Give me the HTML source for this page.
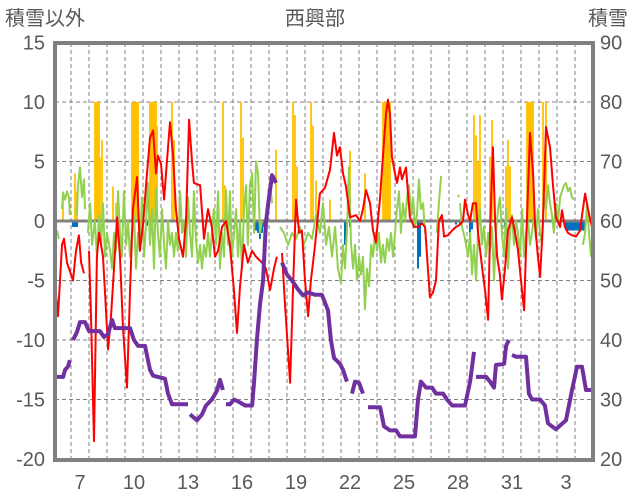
<!DOCTYPE html>
<html><head><meta charset="utf-8"><style>
html,body{margin:0;padding:0;background:#fff;}
svg{display:block;font-family:"Liberation Sans","Noto Sans CJK JP",sans-serif;}
</style></head><body>
<svg id="chart" width="636" height="501" viewBox="0 0 636 501" xmlns="http://www.w3.org/2000/svg">
<g id="grid"></g>
<g id="bars"></g>
<g id="lines"></g>
<g id="axes"></g>
<text x="5" y="25" font-size="20" fill="#595959">積雪以外</text>
<text x="315" y="25" font-size="20" fill="#595959" text-anchor="middle">西興部</text>
<text x="588" y="25" font-size="20" fill="#595959">積雪</text>
</svg>
<script>
const leftTicks=[15,10,5,0,-5,-10,-15,-20];
const rightTicks=[90,80,70,60,50,40,30,20];
const dayTicks=[7,10,13,16,19,22,25,28,31,34];
const redDays=[5.67,5.78,6.0,6.11,6.28,6.5,6.61,6.78,6.94,7.06,7.22,7.3,7.5,7.61,7.78,7.94,8.06,8.28,8.39,8.56,8.72,8.89,9.06,9.22,9.39,9.61,9.78,9.94,10.17,10.33,10.5,10.72,10.89,11.06,11.22,11.33,11.5,11.67,11.83,12.0,12.17,12.33,12.5,12.72,12.89,13.06,13.22,13.33,13.67,13.89,14.11,14.33,14.5,14.67,14.89,15.11,15.33,15.56,15.72,15.89,16.11,16.33,16.56,16.78,17.11,17.33,17.56,17.78,17.94,18.0,18.22,18.39,18.56,18.67,18.83,19.0,19.17,19.33,19.5,19.67,19.83,20.06,20.33,20.61,20.89,21.11,21.28,21.44,21.61,21.78,22.0,22.33,22.56,22.72,22.89,23.11,23.28,23.44,23.67,23.83,24.0,24.11,24.22,24.33,24.5,24.61,24.78,24.89,25.11,25.33,25.56,25.78,26.0,26.17,26.33,26.44,26.61,26.78,26.94,27.11,27.22,27.44,27.67,27.89,28.11,28.28,28.39,28.56,28.67,28.83,29.0,29.11,29.22,29.39,29.5,29.67,29.78,29.94,30.06,30.17,30.33,30.44,30.61,30.78,31.0,31.17,31.33,31.5,31.67,31.83,32.0,32.17,32.28,32.44,32.56,32.72,32.89,33.11,33.28,33.44,33.67,33.78,33.94,34.11,34.33,34.56,34.78,34.94,35.06,35.22,35.44];
const redVals=[-6.3,-8,-2,-1.5,-3.5,-4.5,-5,-2.5,-1.2,-3.5,-4.4,null,-2.5,-8,-18.5,-3,-1,-3,-6,-10.8,-8,-4,0.3,-3,-9,-14,-6,1,3.7,-2.5,-0.3,4,7,7.6,4,5.5,4.8,1.8,5,8.3,5.5,1,-1.5,-3,0,8.5,5,3.2,3,-1.5,1,-0.5,-3,-2.5,-0.5,0,-2,-6,-9.4,-5.5,-2,-3.5,-2.5,-3,-3.5,-4,-5.8,-4,-3,null,-2.7,-7,-11,-13.6,-6,1.8,-1,-0.8,-5,-8,-5,-2,2.3,2.8,4.3,7.4,5.5,6.2,4,2.9,0.3,0.5,0,1,2.6,1.5,-0.8,-1.8,2,5.4,9,10.2,9,5.4,4,3.2,4.5,3.5,4.5,0.3,-0.5,-0.5,-0.2,-0.5,-4,-6.4,-6,-5,0,0.5,-1.3,-1.2,-0.8,-0.5,-0.3,0,1.8,0.5,0,1.5,1.5,-1,-2.4,-4.5,-5.8,-8.3,-1,6.2,0,-3,-4.5,-6.6,-4,-0.8,0.3,-1,-2.4,-5,-7.5,0,7.4,4,-0.2,-3,-4.7,0,7.9,6.2,3,0.3,-0.5,0.9,-0.5,-1,-1.2,-1.3,-0.8,1,2.3,1,-0.5];
const greenDays=[5.72,5.83,5.9,6.0,6.06,6.17,6.28,6.39,6.44,6.5,6.83,6.89,7.0,7.11,7.22,7.28,7.35,7.44,7.56,7.67,7.83,7.94,8.06,8.17,8.28,8.39,8.5,8.67,8.78,8.89,9.0,9.11,9.22,9.33,9.44,9.56,9.67,9.78,9.89,10.0,10.11,10.22,10.33,10.44,10.56,10.67,10.78,10.89,11.0,11.11,11.22,11.33,11.44,11.56,11.67,11.78,11.89,12.0,12.11,12.22,12.33,12.44,12.56,12.67,12.78,12.89,13.0,13.11,13.22,13.33,13.44,13.56,13.67,13.78,13.89,14.0,14.11,14.22,14.33,14.44,14.56,14.67,14.78,14.89,15.0,15.11,15.22,15.33,15.44,15.56,15.67,15.78,15.89,16.0,16.11,16.22,16.33,16.44,16.56,16.67,16.78,16.89,17.0,17.11,17.2,17.44,17.56,17.67,17.75,18.11,18.33,18.56,18.78,19.0,19.22,19.44,19.67,19.89,20.11,20.33,20.5,20.67,20.83,21.0,21.17,21.33,21.5,21.61,21.72,21.83,21.94,22.06,22.17,22.28,22.39,22.5,22.61,22.72,22.83,22.94,23.06,23.17,23.28,23.39,23.5,23.61,23.72,23.83,23.94,24.06,24.17,24.28,24.39,24.5,24.61,24.72,24.83,24.94,25.06,25.17,25.28,25.39,25.5,25.61,25.72,25.83,25.94,26.06,26.17,26.3,26.83,26.94,27.06,27.15,28.0,28.06,28.1,28.11,28.22,28.39,28.56,28.67,28.78,28.89,29.0,29.11,29.22,29.33,29.44,29.56,29.67,29.78,29.89,30.0,30.11,30.22,30.33,30.44,30.56,30.67,30.78,30.89,31.0,31.11,31.22,31.33,31.44,31.56,31.67,31.78,31.89,32.0,32.11,32.22,32.33,32.44,32.56,32.67,32.78,32.89,33.0,33.11,33.22,33.33,33.44,33.56,33.67,33.78,33.89,34.0,34.11,34.22,34.33,34.44,34.5,34.94,35.06,35.17,35.28,35.39];
const greenVals=[-0.8,-1.5,null,1,2.4,1.8,2.5,2,0.5,null,0.5,3,4.5,2,3.5,1,null,-1,1.5,-2,0,-3,0.5,-2,1.5,-3,-1,-2.5,-4,-1,-2.5,2.5,-1,-3,2.5,-2,0,-3,-1,0.5,-4,-1,-2.5,2,-3,0,3.2,-2,1,-4,2.8,-1,-3,1,-2,-4,0,-2,-1,-3,-1,-2.5,2.5,-1,0,-3,2,-1,-3,2.5,-1.5,-3.5,-2,-4,-2,-3,-1,-3,-1,1,-2,2.5,-4,-1,-3,2.6,-2,2.5,-3,-1,1,-3,0,-4,1,3,-2,3,4,-1,5,4,-1,0,null,2.5,3,1.5,null,-0.5,-1,-2,-1,-1.5,-0.5,-2,-1,-1.5,0.5,-1,1.5,-2,-0.5,-3,-0.5,-4,-5.2,-2,-4,-1,4.5,-2,-4,-2,-5,-3,-4.5,-3,-7.4,-4,-5.5,-2,-3,-1,-2.5,-1,-3.5,-2,-3.5,-1.5,-2.5,-1,-3,-1,1,2.5,-1,1.5,0,2,3,0.5,2,-0.5,0.5,3.5,1,1.5,-1,null,-1,1.5,3.8,null,2.2,2,null,1.5,-0.5,-1.5,-3,-1,-4.5,-2,-5,-1,1,-2,-0.5,-3,-1,-2.5,-0.5,-5,-1,1,2,-1,-3,1,-4,-1,0.5,-2,0,-1,-3,1,-3,-1,0,-2,-1,0.5,-1.5,1,-1,-2,2,1,3,1.5,0.5,-1,1.5,0,2,2.5,3,3.2,2.5,2.8,2,1.8,null,-2,-1,1.5,-1,-3];
const snowDays=[5.64,6.06,6.17,6.33,6.44,6.5,6.61,6.83,7.0,7.28,7.5,7.83,8.11,8.33,8.56,8.78,8.94,9.33,9.78,10.0,10.22,10.61,10.89,11.06,11.72,11.89,12.11,13.0,13.05,13.11,13.5,13.78,14.0,14.33,14.61,14.78,14.94,15.0,15.11,15.33,15.56,15.89,16.17,16.56,16.67,16.83,17.0,17.17,17.33,17.5,17.67,17.89,18.0,18.22,18.5,18.78,19.11,19.39,19.67,20.06,20.44,20.78,20.94,21.11,21.44,21.61,21.83,21.9,22.11,22.28,22.5,22.72,22.8,23.0,23.67,23.89,24.22,24.56,24.78,25.61,25.78,25.94,26.22,26.56,26.78,27.17,27.39,27.67,28.39,28.67,28.89,28.95,29.0,29.56,29.78,30.0,30.11,30.56,30.67,30.83,30.9,31.0,31.22,31.78,31.94,32.11,32.56,32.83,33.0,33.44,34.0,34.33,34.61,34.89,35.11,35.44];
const snowVals=[33.8,33.8,35,35.5,36.6,null,40,41.3,43,43,41.5,41.5,41.5,40.5,41,43.4,42,42,42,40,39,39,35,34,33.5,31,29.2,29.2,null,27.5,26.5,27.5,29,30,31.5,33.3,31.6,null,29.2,29.2,30,29.5,29,29,33,40,46,50,59.7,64,67.7,66.4,null,53,51,50,48.5,47.5,48,47.6,47.6,45,40,37,36,35,33,null,31,33,32.8,31,null,28.7,28.7,25.5,24.8,24.8,23.8,23.8,30,33,32,32,31,31,30,29,29,33,38,null,33.8,33.8,33,32,35.8,36,39,40,null,37.5,37.2,37.2,31,30,30,29,26,25,26.5,31.5,35.5,35.5,31.6,31.6];
const precipDays=[6.056,6.722,6.833,7.833,7.889,7.944,8.0,8.056,8.111,8.222,8.833,9.0,9.889,9.944,10.0,10.056,10.111,10.167,10.222,10.889,10.944,11.0,11.056,11.111,11.167,11.222,11.278,12.111,12.222,14.944,15.056,15.944,16.056,17.889,18.833,18.944,19.056,19.833,19.944,20.111,20.889,22.0,22.833,23.833,23.889,23.944,24.0,24.056,24.111,24.167,24.222,28.889,29.0,29.111,29.222,29.778,29.889,30.667,30.778,30.889,31.833,31.889,31.944,32.0,32.056,32.111,32.167,32.722,32.889];
const precipVals=[2,4,2.5,10,10,10,10,10,5.3,6.8,2.9,1.5,10,10,10,10,10,10,10,10,10,10,10,10,10,10,8,10,6.8,10,3,10,7,6,10,8.9,4.6,10,8,3.4,1.8,5.9,4,10,10,10,10,10,10,10,10,8.9,7.2,5,8.9,5.4,8.5,4.6,6.8,4.6,10,10,10,10,10,10,10,10,10];
const negDays=[6.611,6.722,6.833,10.722,10.889,16.778,16.889,17.0,17.111,17.222,21.722,21.833,22.0,25.778,25.889,27.889,28.111,28.667,28.778,30.611,34.0,34.111,34.222,34.333,34.444,34.556,34.667,34.778,34.889,35.0];
const negVals=[-0.5,-0.5,-0.5,-0.4,-0.5,-0.8,-1,-1.5,-1,-0.5,-2,-1,-0.5,-4,-3,-0.3,-0.3,-1.5,-0.7,-0.5,-0.8,-0.8,-0.8,-0.8,-0.8,-0.8,-0.8,-0.8,-0.8,-0.8];

const NS='http://www.w3.org/2000/svg';
const X0=55,X1=593,Y0=43,Y1=460;
function xs(d){return 80+(d-7)*18;}
function yl(v){return 221-v*11.9;}
function yr(r){return 221-(r-60)*5.95;}
function mk(tag,parent,attrs){const e=document.createElementNS(NS,tag);for(const k in attrs)e.setAttribute(k,attrs[k]);parent.appendChild(e);return e;}
const grid=document.getElementById('grid'),bars=document.getElementById('bars'),lines=document.getElementById('lines'),axes=document.getElementById('axes');
leftTicks.forEach(v=>{
  if(v!==0&&v!==15&&v!==-20){const l=mk('line',grid,{x1:X0,x2:X1,y1:yl(v),y2:yl(v),stroke:'#808080','stroke-width':1,'stroke-dasharray':'4,3'});
  
  }
  const t=mk('text',axes,{x:45,y:yl(v)+7,'font-size':20,fill:'#595959','text-anchor':'end'});t.textContent=v;
  
  
});
rightTicks.forEach(r=>{
  const t=mk('text',axes,{x:600,y:yr(r)+7,'font-size':20,fill:'#595959'});t.textContent=r;
  
  
});
for(let d=6.5;d<35.5;d+=1){
  const l=mk('line',grid,{x1:xs(d),x2:xs(d),y1:Y0,y2:Y1,stroke:'#808080','stroke-width':1,'stroke-dasharray':'4,3'});
  
  
}
dayTicks.forEach(d=>{
  const t=mk('text',axes,{x:xs(d),y:489,'font-size':20,fill:'#595959','text-anchor':'middle'});t.textContent=d>31?d-31:d;
  
  
});
precipDays.forEach((d,i)=>{
  const y=yl(precipVals[i]);
  const b=mk('rect',bars,{x:xs(d)-0.9,y:y,width:1.8,height:yl(0)-y,fill:'#FFC000'});
  
  
});
negDays.forEach((d,i)=>{
  const y=yl(negVals[i]);
  const b=mk('rect',bars,{x:xs(d)-1,y:yl(0),width:2,height:y-yl(0),fill:'#0070C0'});
  
  
});
const z=mk('line',bars,{x1:X0,x2:X1,y1:yl(0),y2:yl(0),stroke:'#808080','stroke-width':3});


function path(days,vals,fy){let s='',pen=false;days.forEach((d,i)=>{const v=vals[i];if(v===null){pen=false;return;}s+=(pen?'L':'M')+xs(d).toFixed(1)+' '+fy(v).toFixed(1);pen=true;});return s;}
const g=mk('path',lines,{d:path(greenDays,greenVals,yl),fill:'none',stroke:'#92D050','stroke-width':2,'stroke-linejoin':'round'});


const r=mk('path',lines,{d:path(redDays,redVals,yl),fill:'none',stroke:'#FF0000','stroke-width':2,'stroke-linejoin':'round'});


const p=mk('path',lines,{d:path(snowDays,snowVals,yr),fill:'none',stroke:'#7030A0','stroke-width':4,'stroke-linejoin':'round'});


const fr=mk('rect',axes,{x:X0,y:Y0,width:X1-X0,height:Y1-Y0,fill:'none',stroke:'#808080','stroke-width':4});


</script>
</body></html>
